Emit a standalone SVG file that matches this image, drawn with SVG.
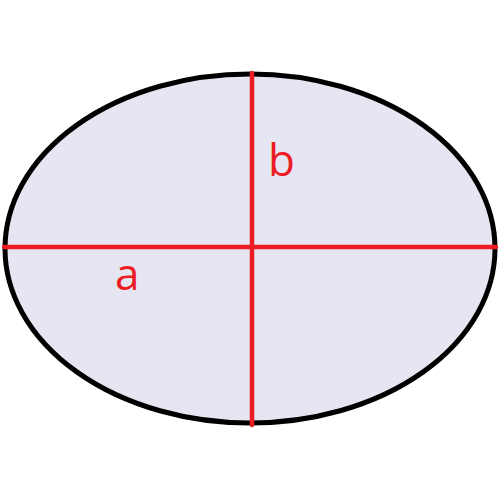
<svg xmlns="http://www.w3.org/2000/svg" width="500" height="500" viewBox="0 0 500 500">
<style>
.axis{stroke:#ed1c24;stroke-width:4.5;stroke-linecap:round}
.lbl{fill:#ed1c24;font-family:"Open Sans","Liberation Sans",sans-serif;font-size:44px}
</style>
<rect width="500" height="500" fill="#ffffff"/>
<g id="ellipse">
<ellipse cx="250" cy="248.5" rx="245" ry="174.5" fill="#e6e6f2" stroke="#000000" stroke-width="5"/>
</g>
<g id="connectors">
<line class="axis" x1="4" y1="247" x2="496" y2="247"/>
<line class="axis" x1="252" y1="73" x2="252" y2="425"/>
</g>
<g id="labels">
<text class="lbl" x="268" y="176">b</text>
<text class="lbl" x="115" y="290">a</text>
</g>
</svg>
